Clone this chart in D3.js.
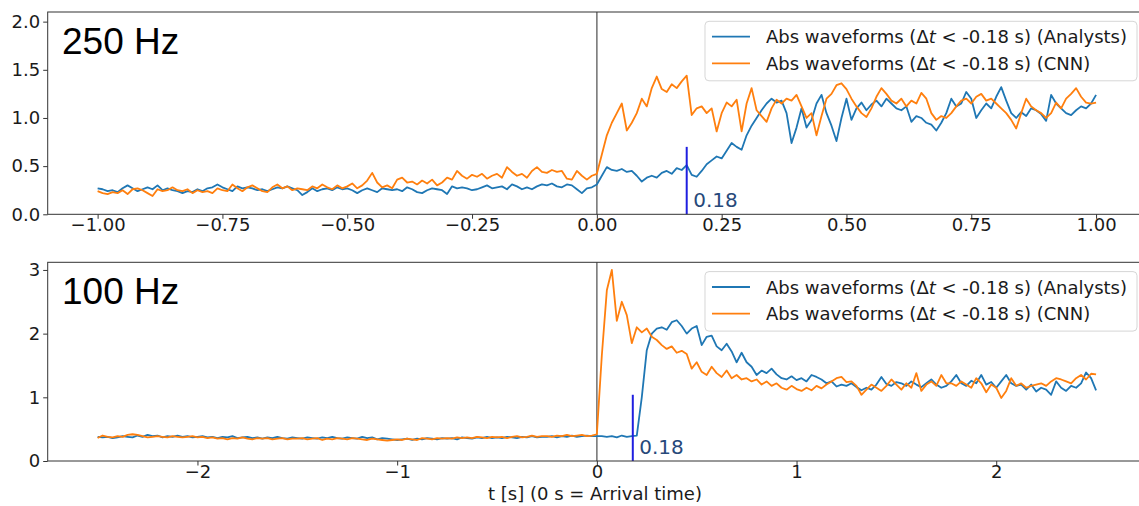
<!DOCTYPE html>
<html>
<head>
<meta charset="utf-8">
<script src="https://cdn.jsdelivr.net/npm/d3@7"></script>
<style>
  html, body { margin: 0; padding: 0; background: #fff; }
  svg { display: block; }
</style>
</head>
<body>
<svg id="chart" width="1139" height="506"></svg>
<script>
// ---- Stacked average absolute waveforms around the arrival pick ----

// 250 Hz panel: samples every 0.01 s from -1 s to 1 s
const t250Start = -1, t250Step = 0.01;
const analysts250 = [
  0.27,0.26,0.24,0.25,0.23,0.27,0.30,0.27,0.24,0.26,
  0.28,0.26,0.30,0.25,0.27,0.25,0.24,0.22,0.24,0.23,
  0.26,0.24,0.27,0.28,0.31,0.28,0.26,0.24,0.29,0.27,
  0.28,0.27,0.25,0.26,0.24,0.26,0.28,0.27,0.29,0.27,
  0.25,0.20,0.23,0.27,0.24,0.26,0.27,0.25,0.28,0.26,
  0.27,0.25,0.22,0.25,0.27,0.25,0.23,0.27,0.26,0.25,
  0.26,0.24,0.28,0.26,0.23,0.22,0.25,0.27,0.26,0.25,
  0.21,0.29,0.27,0.28,0.27,0.25,0.26,0.28,0.30,0.27,
  0.28,0.29,0.26,0.31,0.29,0.26,0.28,0.26,0.29,0.31,
  0.30,0.32,0.29,0.28,0.31,0.30,0.26,0.22,0.27,0.28,
  0.31,
  0.40,0.49,0.46,0.45,0.47,0.44,0.45,0.40,0.34,0.38,
  0.40,0.38,0.43,0.45,0.42,0.48,0.46,0.51,0.41,0.39,
  0.45,0.52,0.56,0.60,0.58,0.66,0.74,0.70,0.67,0.82,
  0.92,1.00,1.08,1.15,1.20,1.16,1.18,1.05,0.74,0.90,
  1.10,0.90,0.98,1.15,1.24,1.05,0.92,0.76,1.00,1.20,
  0.98,1.10,1.16,1.08,1.14,1.18,1.12,1.20,1.15,1.10,
  1.08,1.12,0.96,1.02,1.00,0.95,0.93,0.87,0.95,1.05,
  1.20,1.12,1.15,1.27,1.20,1.00,1.08,1.15,1.10,1.22,
  1.32,1.18,1.05,1.00,1.06,1.02,1.10,1.08,1.04,0.97,
  1.24,1.15,1.10,1.05,1.03,1.08,1.12,1.10,1.15,1.24
];
const cnn250 = [
  0.24,0.22,0.21,0.23,0.22,0.25,0.21,0.26,0.27,0.25,
  0.22,0.19,0.26,0.24,0.25,0.28,0.25,0.24,0.26,0.22,
  0.25,0.23,0.24,0.22,0.27,0.25,0.24,0.31,0.27,0.24,
  0.28,0.30,0.27,0.24,0.23,0.28,0.31,0.27,0.29,0.25,
  0.27,0.26,0.25,0.29,0.27,0.31,0.28,0.26,0.30,0.27,
  0.29,0.32,0.27,0.30,0.35,0.43,0.33,0.28,0.30,0.27,
  0.36,0.38,0.33,0.34,0.31,0.35,0.32,0.36,0.30,0.33,
  0.38,0.36,0.45,0.40,0.37,0.41,0.39,0.42,0.37,0.40,
  0.42,0.38,0.49,0.44,0.40,0.42,0.38,0.45,0.49,0.44,
  0.43,0.46,0.44,0.45,0.37,0.36,0.45,0.40,0.36,0.40,
  0.42,
  0.62,0.82,0.95,1.05,1.15,0.87,0.95,1.05,1.20,1.12,
  1.31,1.43,1.30,1.27,1.35,1.31,1.38,1.44,1.03,1.10,
  1.12,1.05,1.10,0.86,1.05,1.16,1.12,1.19,0.86,1.15,
  1.31,1.08,1.02,0.96,1.10,1.19,1.15,1.20,1.18,1.24,
  1.12,1.00,1.05,0.82,1.02,1.20,1.25,1.34,1.36,1.30,
  1.20,1.12,1.05,1.01,1.10,1.22,1.31,1.25,1.18,1.15,
  1.20,1.12,1.18,1.15,1.26,1.20,1.05,0.98,1.02,1.00,
  1.05,1.12,1.18,1.20,1.15,1.22,1.25,1.18,1.20,1.15,
  1.10,1.05,0.98,0.89,1.05,1.20,1.12,1.08,1.05,1.00,
  1.05,1.16,1.10,1.20,1.25,1.31,1.22,1.16,1.15,1.16
];

// 100 Hz panel: samples every 0.025 s from -2.5 s to 2.5 s
const t100Start = -2.5, t100Step = 0.025;
const analysts100 = [
  0.38,0.37,0.38,0.36,0.37,0.39,0.38,0.37,0.40,0.38,
  0.41,0.39,0.40,0.37,0.39,0.38,0.40,0.38,0.39,0.37,
  0.38,0.39,0.37,0.38,0.36,0.38,0.37,0.39,0.36,0.37,
  0.38,0.36,0.37,0.35,0.37,0.36,0.38,0.36,0.35,0.37,
  0.36,0.35,0.37,0.36,0.35,0.37,0.36,0.38,0.36,0.35,
  0.37,0.36,0.35,0.38,0.36,0.37,0.34,0.36,0.35,0.34,
  0.33,0.34,0.35,0.33,0.35,0.34,0.36,0.35,0.34,0.36,
  0.35,0.36,0.34,0.37,0.36,0.35,0.37,0.36,0.38,0.36,
  0.37,0.36,0.38,0.37,0.36,0.38,0.37,0.39,0.37,0.38,
  0.38,0.39,0.37,0.39,0.38,0.40,0.38,0.39,0.40,0.39,
  0.39,
  0.39,0.38,0.39,0.37,0.40,0.38,0.39,0.40,1.00,1.74,
  2.00,2.08,2.10,2.06,2.18,2.21,2.12,2.00,2.08,2.12,
  1.82,1.95,1.97,1.80,1.74,1.84,1.72,1.55,1.70,1.55,
  1.48,1.35,1.42,1.38,1.45,1.36,1.30,1.28,1.33,1.27,
  1.30,1.25,1.35,1.32,1.28,1.22,1.25,1.17,1.20,1.18,
  1.22,1.16,1.11,1.15,1.12,1.20,1.32,1.21,1.18,1.24,
  1.22,1.18,1.25,1.20,1.16,1.22,1.28,1.20,1.15,1.18,
  1.25,1.35,1.22,1.18,1.26,1.22,1.35,1.20,1.24,1.15,
  1.25,1.35,1.22,1.18,1.20,1.12,1.20,1.09,1.15,1.12,
  1.04,1.25,1.15,1.10,1.18,1.15,1.22,1.39,1.30,1.11
];
const cnn100 = [
  0.36,0.40,0.38,0.37,0.39,0.38,0.41,0.42,0.41,0.39,
  0.37,0.38,0.39,0.38,0.37,0.39,0.38,0.37,0.38,0.39,
  0.37,0.38,0.36,0.37,0.35,0.36,0.34,0.36,0.35,0.37,
  0.35,0.34,0.36,0.35,0.36,0.34,0.35,0.36,0.34,0.35,
  0.35,0.36,0.34,0.35,0.36,0.33,0.35,0.34,0.36,0.35,
  0.34,0.36,0.35,0.34,0.33,0.35,0.34,0.33,0.32,0.33,
  0.34,0.33,0.35,0.34,0.33,0.36,0.35,0.34,0.36,0.35,
  0.36,0.35,0.37,0.36,0.37,0.36,0.38,0.37,0.36,0.38,
  0.37,0.38,0.36,0.38,0.39,0.37,0.38,0.40,0.38,0.39,
  0.39,0.38,0.40,0.39,0.41,0.39,0.40,0.41,0.39,0.40,
  0.42,
  1.66,2.68,3.00,2.20,2.50,2.29,1.85,2.10,2.02,2.08,
  1.95,1.90,1.82,1.76,1.80,1.70,1.73,1.68,1.45,1.55,
  1.40,1.35,1.48,1.38,1.32,1.42,1.30,1.35,1.28,1.30,
  1.25,1.28,1.20,1.25,1.18,1.22,1.15,1.12,1.18,1.13,
  1.10,1.15,1.11,1.18,1.14,1.20,1.25,1.30,1.32,1.24,
  1.25,1.18,1.04,1.12,1.20,1.15,1.10,1.18,1.28,1.20,
  1.12,1.22,1.15,1.38,1.10,1.20,1.25,1.18,1.35,1.22,
  1.22,1.18,1.25,1.20,1.15,1.30,1.22,1.08,1.20,1.15,
  0.99,1.10,1.30,1.18,1.22,1.15,1.18,1.20,1.22,1.18,
  1.25,1.30,1.28,1.25,1.22,1.30,1.35,1.28,1.37,1.36
];

// Axis ticks, labels and annotations
const xTicks250 = [-1, -0.75, -0.5, -0.25, 0, 0.25, 0.5, 0.75, 1];
const yTicks250 = [0, 0.5, 1, 1.5, 2];
const xTicks100 = [-2, -1, 0, 1, 2];
const yTicks100 = [0, 1, 2, 3];
const panelTitles = ["250 Hz", "100 Hz"];
const seriesNames = ["Analysts", "CNN"];
const pickOffset = 0.18;              // Δt threshold / analyst pick delay [s]
const xLabel = "t [s] (0 s = Arrival time)";

const colors = ["#1f77b4", "#ff7f0e"];

function withTime(values, start, step) {
  return values.map((v, i) => ({ t: start + i * step, v }));
}

const panels = [
  {
    title: panelTitles[0],
    series: [withTime(analysts250, t250Start, t250Step), withTime(cnn250, t250Start, t250Step)],
    xDomain: [-1.1, 1.1], yDomain: [0, 2.1],
    xTicks: xTicks250, yTicks: yTicks250,
    xFmt: d3.format(".2f"), yFmt: d3.format(".1f"),
    top: 12, bottom: 214.3
  },
  {
    title: panelTitles[1],
    series: [withTime(analysts100, t100Start, t100Step), withTime(cnn100, t100Start, t100Step)],
    xDomain: [-2.75, 2.75], yDomain: [0, 3.12],
    xTicks: xTicks100, yTicks: yTicks100,
    xFmt: d3.format("d"), yFmt: d3.format("d"),
    top: 262.3, bottom: 461
  }
];

const svg = d3.select("#chart");
const plotLeft = 47.7, plotRight = 1146;
const tickFont = "'DejaVu Sans', sans-serif";

panels.forEach(p => {
  const x = d3.scaleLinear().domain(p.xDomain).range([plotLeft, plotRight]);
  const y = d3.scaleLinear().domain(p.yDomain).range([p.bottom, p.top]);
  const g = svg.append("g");

  // arrival-time marker
  g.append("line")
    .attr("x1", x(0)).attr("x2", x(0))
    .attr("y1", p.top).attr("y2", p.bottom)
    .attr("stroke", "#808080").attr("stroke-width", 1.7);

  // waveforms
  const line = d3.line().x(d => x(d.t)).y(d => y(d.v));
  p.series.forEach((s, k) => {
    g.append("path")
      .datum(s)
      .attr("d", line)
      .attr("fill", "none")
      .attr("stroke", colors[k])
      .attr("stroke-width", 1.8)
      .attr("stroke-linejoin", "round");
  });

  // pick delay marker (one third of the axis height)
  const yLow = p.yDomain[0], yHigh = p.yDomain[1];
  g.append("line")
    .attr("x1", x(pickOffset)).attr("x2", x(pickOffset))
    .attr("y1", y(yLow)).attr("y2", y(yLow + (yHigh - yLow) / 3))
    .attr("stroke", "#1f1fe0").attr("stroke-width", 2);
  g.append("text")
    .attr("x", x(pickOffset) + 6.5)
    .attr("y", p.bottom - 7.5)
    .attr("font-family", tickFont)
    .attr("font-size", 20)
    .attr("fill", "#27497a")
    .text(pickOffset.toFixed(2));

  // axes
  const xAxis = d3.axisBottom(x).tickValues(p.xTicks).tickFormat(p.xFmt).tickSize(4.5).tickPadding(2);
  const yAxis = d3.axisLeft(y).tickValues(p.yTicks).tickFormat(p.yFmt).tickSize(4.5).tickPadding(3);

  const gx = g.append("g").attr("transform", `translate(0,${p.bottom})`).call(xAxis);
  const gy = g.append("g").attr("transform", `translate(${plotLeft},0)`).call(yAxis);
  [gx, gy].forEach(a => {
    a.select(".domain").remove();
    a.selectAll(".tick line").attr("stroke", "#333").attr("stroke-width", 1);
    a.selectAll(".tick text")
      .attr("font-family", tickFont)
      .attr("font-size", 18)
      .attr("fill", "#1a1a1a");
  });
  gx.selectAll(".tick text").attr("dy", null).attr("y", 17);

  // frame
  g.append("rect")
    .attr("x", plotLeft).attr("y", p.top)
    .attr("width", plotRight - plotLeft).attr("height", p.bottom - p.top)
    .attr("fill", "none").attr("stroke", "#333").attr("stroke-width", 1);

  // panel title
  g.append("text")
    .attr("x", 62).attr("y", p.top + 41.5)
    .attr("font-family", "'Liberation Sans', Arial, sans-serif")
    .attr("font-size", 37)
    .attr("fill", "#000")
    .text(p.title);

  // legend
  const lg = g.append("g");
  const rowGap = 26.6, padL = 7, lineLen = 38, gap = 16, padR = 10;
  const box = lg.append("rect");
  const texts = seriesNames.map((name, k) => {
    const tx = lg.append("text")
      .attr("font-family", tickFont)
      .attr("font-size", 18)
      .attr("fill", "#1a1a1a");
    tx.append("tspan").text("Abs waveforms (Δ");
    tx.append("tspan").attr("font-style", "italic").text("t");
    tx.append("tspan").text(` < -${pickOffset.toFixed(2)} s) (${name})`);
    return tx;
  });
  const textW = d3.max(texts, t => t.node().getComputedTextLength());
  const boxRight = plotRight - 9;
  const boxW = padL + lineLen + gap + textW + padR;
  const boxLeft = boxRight - boxW;
  const boxTop = p.top + 9.3;
  const boxH = 59.5;
  box.attr("x", boxLeft).attr("y", boxTop)
    .attr("width", boxW).attr("height", boxH)
    .attr("rx", 4).attr("ry", 4)
    .attr("fill", "#fff").attr("fill-opacity", 0.8)
    .attr("stroke", "#d6d6d6").attr("stroke-width", 1);
  seriesNames.forEach((name, k) => {
    const cy = boxTop + 15.4 + k * rowGap;
    lg.append("line")
      .attr("x1", boxLeft + padL).attr("x2", boxLeft + padL + lineLen)
      .attr("y1", cy).attr("y2", cy)
      .attr("stroke", colors[k]).attr("stroke-width", 1.8);
    texts[k].attr("x", boxLeft + padL + lineLen + gap).attr("y", cy + 6.5);
  });
});

// shared x-axis label
svg.append("text")
  .attr("x", 595).attr("y", 500)
  .attr("text-anchor", "middle")
  .attr("font-family", tickFont)
  .attr("font-size", 18)
  .attr("fill", "#1a1a1a")
  .text(xLabel);
</script>
</body>
</html>
